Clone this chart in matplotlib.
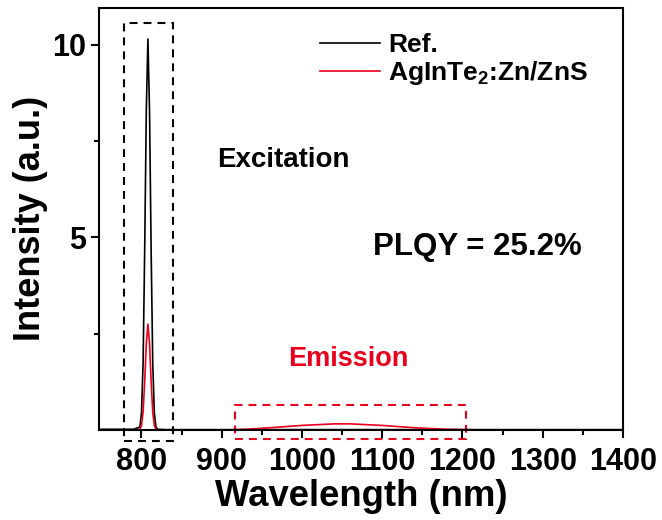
import matplotlib
matplotlib.use('Agg')
import matplotlib.pyplot as plt
from matplotlib.patches import Rectangle

plt.rcParams.update({
    'font.family': 'Liberation Sans',
    'font.weight': 'bold',
    'axes.labelweight': 'bold',
    'mathtext.fontset': 'custom',
    'mathtext.rm': 'Liberation Sans:bold',
    'mathtext.it': 'Liberation Sans:bold',
    'mathtext.bf': 'Liberation Sans:bold',
})

# spectra
wl_ref = [750, 790, 798, 800, 802, 804, 806, 808, 810, 812, 814, 816, 818, 820, 830, 900, 1000, 1100, 1200, 1400]
int_ref = [0.02, 0.02, 0.08, 0.45, 1.75, 4.7, 8.3, 10.15, 8.3, 4.7, 1.75, 0.45, 0.08, 0.02, 0.01, 0.01, 0.01, 0.01, 0.01, 0.01]

wl_qd = [750, 790, 798, 800, 802, 804, 806, 808, 810, 812, 814, 816, 818, 820, 830, 900, 930, 960, 1000, 1040,
         1060, 1100, 1140, 1180, 1220, 1400]
int_qd = [0.0, 0.0, 0.02, 0.12, 0.47, 1.27, 2.25, 2.75, 2.25, 1.27, 0.47, 0.12, 0.02, 0.0, 0.0, 0.0, 0.02, 0.06,
          0.12, 0.16, 0.16, 0.12, 0.06, 0.02, 0.005, 0.0]

exc_box = (778, -0.29, 61, 10.86)    # x, y, width, height
emi_box = (916, -0.23, 288, 0.88)

red = '#e8001c'

fig = plt.figure(figsize=(6.62, 5.2), dpi=100)
ax = fig.add_axes([0.1495, 0.173, 0.7915, 0.812])

ax.plot(wl_ref, int_ref, color='black', lw=1.2, label='Ref.')
ax.plot(wl_qd, int_qd, color=red, lw=1.2, label='AgInTe$_2$:Zn/ZnS')

ax.add_patch(Rectangle(exc_box[:2], exc_box[2], exc_box[3], fill=False, ec='black',
                       lw=1.5, ls=(0, (3.8, 2.9)), clip_on=False))
ax.add_patch(Rectangle(emi_box[:2], emi_box[2], emi_box[3], fill=False, ec=red,
                       lw=1.5, ls=(0, (3.8, 2.9)), clip_on=False))

ax.text(977, 7.0, 'Excitation', fontsize=20, ha='center', va='center')
ax.text(1218, 4.74, 'PLQY = 25.2%', fontsize=22.5, ha='center', va='center')
ax.text(1058, 1.85, 'Emission', fontsize=19.5, ha='center', va='center', color=red)

ax.set_xlim(747, 1400)
ax.set_ylim(0, 10.96)
ax.set_xticks([800, 900, 1000, 1100, 1200, 1300, 1400])
ax.set_xticks([850, 950, 1050, 1150, 1250, 1350], minor=True)
ax.set_yticks([5, 10])
ax.set_yticks([2.5, 7.5], minor=True)
ax.tick_params(which='major', direction='out', length=6, width=1.5, labelsize=22)
ax.tick_params(which='minor', direction='out', length=3.5, width=1.5)
ax.tick_params(axis='x', which='major', pad=6.5)
ax.tick_params(axis='y', which='major', pad=3.5)
for s in ax.spines.values():
    s.set_linewidth(1.5)

ax.set_xlabel('Wavelength (nm)', fontsize=26.3, labelpad=1)
ax.set_ylabel('Intensity (a.u.)', fontsize=26, labelpad=3)

ax.legend(loc='upper left', bbox_to_anchor=(0.4218, 0.94), frameon=False, fontsize=19,
          borderpad=0, borderaxespad=0, handlelength=2.27, handletextpad=0.3, labelspacing=0.08)

fig.savefig('out.png', dpi=100)
